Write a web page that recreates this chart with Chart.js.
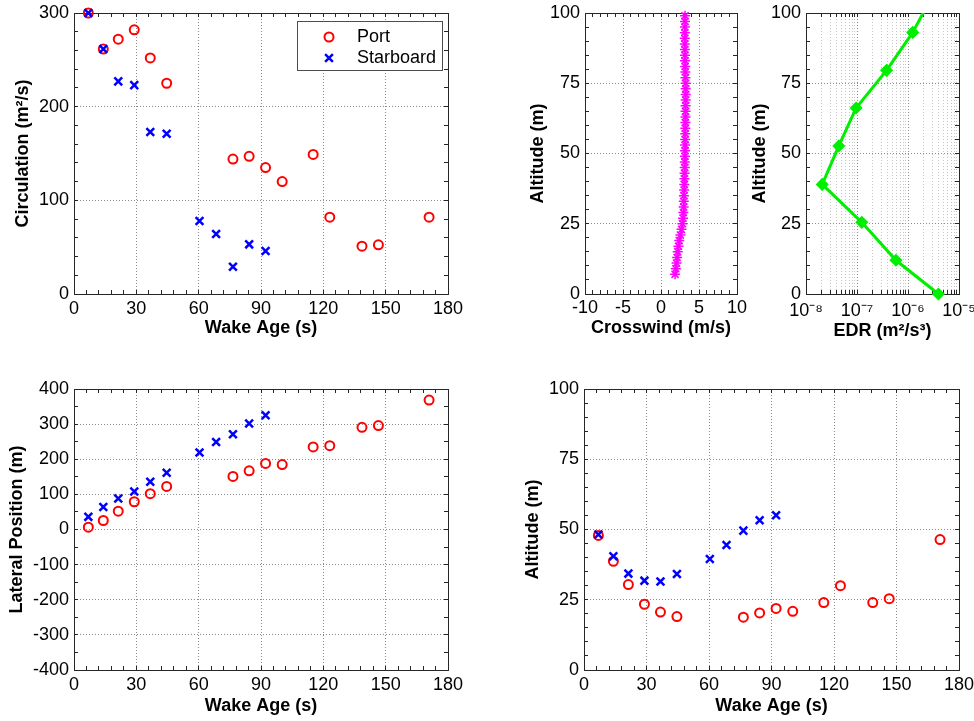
<!DOCTYPE html>
<html>
<head>
<meta charset="utf-8">
<title>Wake vortex circulation, position and ambient profiles</title>
<script src="https://cdn.jsdelivr.net/npm/chart.js@4.4.1/dist/chart.umd.min.js"></script>
<style>
	body { margin: 0; background: #fff; }
	#page { position: relative; width: 974px; height: 721px; overflow: hidden; background: #fff; }
	#page canvas { position: absolute; }
</style>
</head>
<body>
<div id="page">
	<canvas id="circulationChart" width="470" height="345" style="left:0;top:0"></canvas>
	<canvas id="crosswindChart" width="250" height="345" style="left:500px;top:0"></canvas>
	<canvas id="edrChart" width="229" height="345" style="left:745px;top:0"></canvas>
	<canvas id="lateralChart" width="470" height="361" style="left:0;top:360px"></canvas>
	<canvas id="altitudeChart" width="484" height="361" style="left:490px;top:360px"></canvas>
</div>
<script>
// Wake ages (s) of each lidar scan
const wakeAgePort = [6.9, 14.1, 21.3, 29.0, 36.7, 44.6, 76.5, 84.3, 92.2, 100.2, 115.1, 123.1, 138.6, 146.5, 170.9];
const wakeAgeStarboard = [6.9, 14.1, 21.3, 29.0, 36.7, 44.6, 60.4, 68.4, 76.5, 84.3, 92.2];

// Circulation (m2/s)
const circulationPort = [300, 261.5, 272, 282, 252, 225, 144, 147, 135, 120, 149, 82, 51, 52.5, 82];
const circulationStarboard = [300, 261.5, 227, 223, 173, 171, 78, 64, 29, 53, 46];

// Lateral position (m)
const lateralPort = [6.7, 25.6, 52, 79, 102, 122.6, 151, 167, 188, 185, 235, 238.5, 291, 296, 368.6];
const lateralStarboard = [36, 64, 88, 108, 136, 161.5, 219.5, 249, 271, 302, 325];

// Vortex altitude (m)
const altitudePort = [47.9, 38.7, 30.4, 23.4, 20.6, 19.0, 18.8, 20.3, 21.9, 20.9, 24.0, 30.0, 24.0, 25.4, 46.4];
const altitudeStarboard = [48.2, 40.5, 34.3, 31.8, 31.5, 34.2, 39.5, 44.5, 49.6, 53.3, 55.1];

// Crosswind profile
const profileAltitude = [7, 9, 11, 13, 15, 17, 19, 21, 23, 25, 27, 29, 31, 33, 35, 37, 39, 41, 43, 45, 47, 49,
	51, 53, 55, 57, 59, 61, 63, 65, 67, 69, 71, 73, 75, 77, 79, 81, 83, 85, 87, 89, 91, 93, 95, 97, 99];
const crosswind = [1.85, 1.95, 2.05, 2.12, 2.2, 2.3, 2.4, 2.55, 2.7, 2.82, 2.9, 2.95, 2.98, 3.0, 3.02, 3.05, 3.07, 3.08, 3.1, 3.12, 3.13, 3.15,
	3.16, 3.17, 3.18, 3.19, 3.2, 3.21, 3.22, 3.23, 3.24, 3.25, 3.25, 3.25, 3.24, 3.22, 3.2, 3.18, 3.16, 3.15, 3.14, 3.13, 3.13, 3.13, 3.14, 3.15, 3.16];

// Eddy dissipation rate profile (last point lies above the plotted range)
const edrAltitude = [0, 12.0, 25.5, 39.0, 52.7, 66.2, 79.6, 93.1, 106.6];
const edrValues = [3.95e-6, 5.8e-7, 1.24e-7, 2.08e-8, 4.4e-8, 9.6e-8, 3.8e-7, 1.24e-6, 3.1e-6];
const edrDecades = [-8, -7, -6, -5];

const FONT = 'Arial, "Liberation Sans", sans-serif';
Chart.defaults.font.family = FONT;
Chart.defaults.font.size = 18;
Chart.defaults.color = '#000';
Chart.defaults.animation = false;
Chart.defaults.events = [];
Chart.defaults.plugins.legend.display = false;
Chart.defaults.plugins.tooltip.enabled = false;

const points = (xs, ys) => xs.map((x, i) => ({ x: x, y: ys[i] }));
const isDecade = (v) => v > 0 && Math.abs(Math.log10(v) - Math.round(Math.log10(v))) < 1e-6;
const SUP = { '-': '\u207B', '0': '\u2070', '1': '\u00B9', '2': '\u00B2', '3': '\u00B3', '4': '\u2074',
	'5': '\u2075', '6': '\u2076', '7': '\u2077', '8': '\u2078', '9': '\u2079' };

function logTickValues() {
	const values = [];
	for (let i = 0; i < edrDecades.length - 1; i++) {
		for (let m = 1; m < 10; m++) values.push(m * Math.pow(10, edrDecades[i]));
	}
	values.push(Math.pow(10, edrDecades[edrDecades.length - 1]));
	return values;
}

// Box around the axes plus inward minor ticks on all four sides (MATLAB look)
const matlabAxes = {
	id: 'matlabAxes',
	beforeDatasetsDraw(chart, args, opts) {
		const { ctx, chartArea: area, scales } = chart;
		const len = 4;
		const marks = (scale, step) => {
			if (step === 'log') return logTickValues();
			const out = [];
			for (let v = scale.min; v <= scale.max + 1e-9; v += step) out.push(v);
			return out;
		};
		ctx.save();
		ctx.strokeStyle = '#262626';
		ctx.lineWidth = 1;
		ctx.beginPath();
		marks(scales.x, opts.xMinor).forEach((v) => {
			const px = Math.round(scales.x.getPixelForValue(v) - 0.5) + 0.5;
			ctx.moveTo(px, area.bottom); ctx.lineTo(px, area.bottom - len);
			ctx.moveTo(px, area.top); ctx.lineTo(px, area.top + len);
		});
		marks(scales.y, opts.yMinor).forEach((v) => {
			const py = Math.round(scales.y.getPixelForValue(v) - 0.5) + 0.5;
			ctx.moveTo(area.left, py); ctx.lineTo(area.left + len, py);
			ctx.moveTo(area.right, py); ctx.lineTo(area.right - len, py);
		});
		ctx.stroke();
		ctx.strokeRect(Math.round(area.left) + 0.5, Math.round(area.top) + 0.5,
			Math.round(area.width), Math.round(area.height));
		ctx.restore();
	},
};
Chart.register(matlabAxes);

// Legend drawn inside the circulation axes
const legendBox = {
	id: 'legendBox',
	afterDatasetsDraw(chart) {
		const { ctx } = chart;
		ctx.save();
		ctx.fillStyle = '#fff';
		ctx.strokeStyle = '#4d4d4d';
		ctx.lineWidth = 1;
		ctx.fillRect(297.5, 21.5, 145, 49);
		ctx.strokeRect(297.5, 21.5, 145, 49);
		ctx.font = '18px ' + FONT;
		ctx.textBaseline = 'middle';
		chart.data.datasets.forEach((ds, i) => {
			const y = 37 + i * 21;
			ctx.strokeStyle = ds.borderColor;
			ctx.fillStyle = ds.backgroundColor;
			ctx.lineWidth = ds.borderWidth;
			Chart.helpers.drawPoint(ctx, {
				pointStyle: ds.pointStyle, radius: ds.pointRadius, rotation: 0, borderWidth: ds.borderWidth,
			}, 329, y);
			ctx.fillStyle = '#000';
			ctx.fillText(ds.label, 357, y);
		});
		ctx.restore();
	},
};

// Axis settings shared by all panels
function axis(cfg) {
	const horizontal = cfg.position === 'bottom';
	return {
		type: cfg.type || 'linear',
		position: cfg.position,
		min: cfg.min,
		max: cfg.max,
		grid: { color: cfg.gridColor || '#8c8c8c', lineWidth: 1, drawTicks: false },
		border: { display: false, dash: [1, 2] },
		ticks: Object.assign({
			stepSize: cfg.step,
			padding: cfg.tickPad,
			maxRotation: 0,
			minRotation: 0,
			autoSkip: false,
		}, cfg.ticks || {}),
		title: {
			display: true,
			text: cfg.title,
			font: { size: 18, weight: 'bold' },
			padding: horizontal ? { top: 0, bottom: cfg.titlePad } : { top: cfg.titlePad, bottom: 0 },
		},
		afterBuildTicks: cfg.afterBuildTicks,
		afterFit: (s) => {
			if (horizontal) {
				s.height = cfg.size;
				s.paddingLeft = 0;
				s.paddingRight = 0;
			} else {
				s.width = cfg.size;
				s.paddingTop = 0;
				s.paddingBottom = 0;
			}
		},
	};
}

const portStyle = {
	label: 'Port',
	order: 1,
	pointStyle: 'circle',
	pointRadius: 4.5,
	borderColor: '#ff0000',
	backgroundColor: 'rgba(0,0,0,0)',
	borderWidth: 2,
	clip: false,
};
const starboardStyle = {
	label: 'Starboard',
	order: 0,
	pointStyle: 'crossRot',
	pointRadius: 5.5,
	borderColor: '#0000ff',
	backgroundColor: '#0000ff',
	borderWidth: 2.5,
	clip: false,
};

function wakeAgeAxis(size, tickPad, titlePad) {
	return axis({ position: 'bottom', min: 0, max: 180, step: 30, title: 'Wake Age (s)', size, tickPad, titlePad });
}

// Circulation vs wake age
new Chart(document.getElementById('circulationChart'), {
	type: 'scatter',
	data: {
		datasets: [
			Object.assign({ data: points(wakeAgePort, circulationPort) }, portStyle),
			Object.assign({ data: points(wakeAgeStarboard, circulationStarboard) }, starboardStyle),
		],
	},
	options: {
		responsive: false,
		layout: { padding: { top: 13, right: 22, left: 0, bottom: 0 } },
		scales: {
			x: wakeAgeAxis(51, 4, 6),
			y: axis({ position: 'left', min: 0, max: 300, step: 100, title: 'Circulation (m\u00B2/s)', size: 74, tickPad: 5, titlePad: 12 }),
		},
		plugins: { matlabAxes: { xMinor: 6, yMinor: 20 } },
	},
	plugins: [legendBox],
});

// Crosswind profile
new Chart(document.getElementById('crosswindChart'), {
	type: 'scatter',
	data: {
		datasets: [{
			data: points(crosswind, profileAltitude),
			showLine: true,
			borderColor: '#ff00ff',
			backgroundColor: '#ff00ff',
			borderWidth: 2,
			pointStyle: 'star',
			pointRadius: 5,
			pointBorderWidth: 1.5,
			clip: false,
		}],
	},
	options: {
		responsive: false,
		layout: { padding: { top: 13, right: 13, left: 0, bottom: 0 } },
		scales: {
			x: axis({ position: 'bottom', min: -10, max: 10, step: 5, title: 'Crosswind (m/s)', size: 51, tickPad: 3, titlePad: 6 }),
			y: axis({ position: 'left', min: 0, max: 100, step: 25, title: 'Altitude (m)', size: 85, tickPad: 5, titlePad: 27 }),
		},
		plugins: { matlabAxes: { xMinor: 1, yMinor: 5 } },
	},
});

// Eddy dissipation rate profile
new Chart(document.getElementById('edrChart'), {
	type: 'scatter',
	data: {
		datasets: [{
			data: points(edrValues, edrAltitude),
			showLine: true,
			borderColor: '#00ee00',
			backgroundColor: '#00ee00',
			borderWidth: 3,
			pointStyle: 'rectRot',
			pointRadius: 5.5,
			pointBorderWidth: 1.5,
			clip: { top: 0, bottom: 10, left: 10, right: 10 },
		}],
	},
	options: {
		responsive: false,
		layout: { padding: { top: 13, right: 15, left: 0, bottom: 0 } },
		scales: {
			x: axis({
				type: 'logarithmic', position: 'bottom',
				min: Math.pow(10, edrDecades[0]), max: Math.pow(10, edrDecades[edrDecades.length - 1]),
				title: 'EDR (m\u00B2/s\u00B3)', size: 51, tickPad: 6, titlePad: 3,
				gridColor: (c) => (c.tick && isDecade(c.tick.value) ? '#8c8c8c' : '#c4c4c4'),
				afterBuildTicks: (s) => { s.ticks = logTickValues().map((v) => ({ value: v })); },
				ticks: {
					callback: (v) => {
						if (!isDecade(v)) return '';
						const e = Math.round(Math.log10(v));
						return '10' + String(e).split('').map((c) => SUP[c]).join('');
					},
				},
			}),
			y: axis({ position: 'left', min: 0, max: 100, step: 25, title: 'Altitude (m)', size: 61, tickPad: 5, titlePad: 4 }),
		},
		plugins: { matlabAxes: { xMinor: 'log', yMinor: 5 } },
	},
});

// Lateral position vs wake age
new Chart(document.getElementById('lateralChart'), {
	type: 'scatter',
	data: {
		datasets: [
			Object.assign({ data: points(wakeAgePort, lateralPort) }, portStyle),
			Object.assign({ data: points(wakeAgeStarboard, lateralStarboard) }, starboardStyle),
		],
	},
	options: {
		responsive: false,
		layout: { padding: { top: 29, right: 22, left: 0, bottom: 0 } },
		scales: {
			x: wakeAgeAxis(51, 4, 4),
			y: axis({ position: 'left', min: -400, max: 400, step: 100, title: 'Lateral Position (m)', size: 74, tickPad: 5, titlePad: 6 }),
		},
		plugins: { matlabAxes: { xMinor: 6, yMinor: 50 } },
	},
});

// Vortex altitude vs wake age
new Chart(document.getElementById('altitudeChart'), {
	type: 'scatter',
	data: {
		datasets: [
			Object.assign({ data: points(wakeAgePort, altitudePort) }, portStyle),
			Object.assign({ data: points(wakeAgeStarboard, altitudeStarboard) }, starboardStyle),
		],
	},
	options: {
		responsive: false,
		layout: { padding: { top: 29, right: 15, left: 0, bottom: 0 } },
		scales: {
			x: wakeAgeAxis(51, 4, 4),
			y: axis({ position: 'left', min: 0, max: 100, step: 25, title: 'Altitude (m)', size: 94, tickPad: 5, titlePad: 32 }),
		},
		plugins: { matlabAxes: { xMinor: 6, yMinor: 5 } },
	},
});
</script>
</body>
</html>
